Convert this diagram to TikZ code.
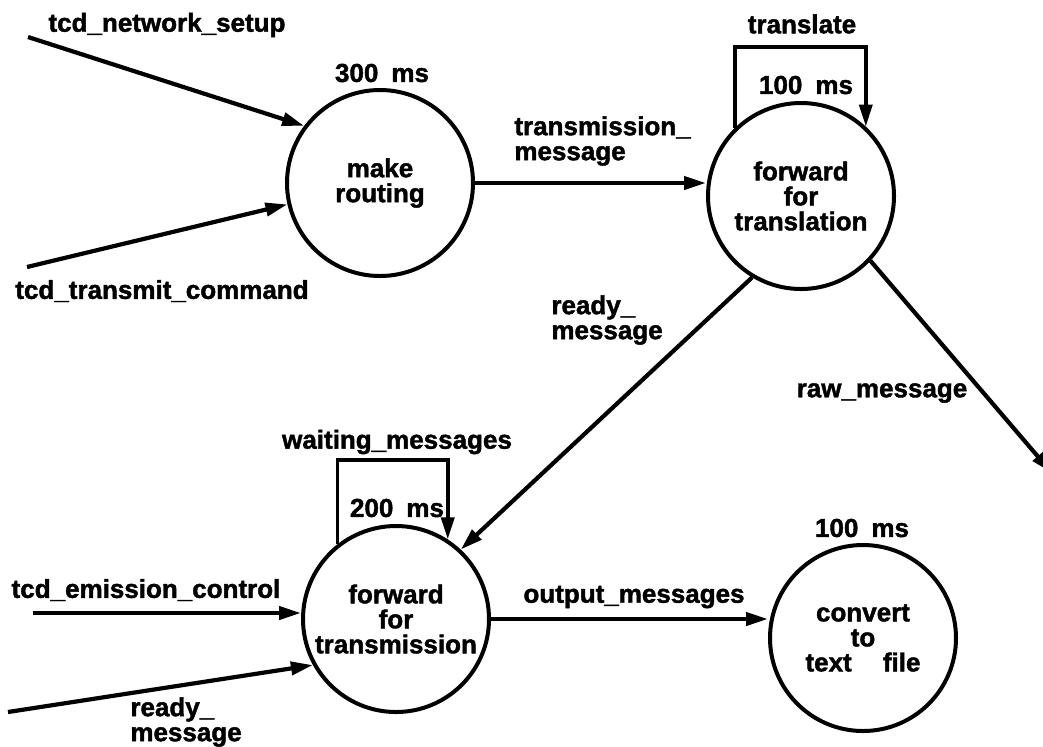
\documentclass[tikz,border=0pt]{standalone}
\usepackage{fontspec}
\setmainfont{Liberation Sans}
\newfontfamily\dfdheavy[FakeBold=1.6]{Liberation Sans Bold}
\usetikzlibrary{arrows.meta}
\newcommand{\dfdfont}{\fontsize{13}{12.5}\selectfont\dfdheavy}
\begin{document}
\begin{tikzpicture}[x=0.5pt,y=-0.5pt,
  proc/.style={circle,draw,line width=2pt,minimum size=93pt,inner sep=0pt,align=center,font=\dfdfont},
  lab/.style={inner sep=0pt,font=\dfdfont},
  flow/.style={line width=2.1pt,-{Triangle[length=11pt,width=6.5pt]}},
  selfloop/.style={line width=1.8pt,-{Triangle[length=11pt,width=6.5pt]}}]
\useasboundingbox (0,0) rectangle (1043,746);
% processes
\node[proc] (mr) at (380,183) {make\\routing};
\node[proc] (ft) at (801,196) {forward\\for\\translation};
\node[proc] (fx) at (396,619) {forward\\for\\transmission};
\node[proc] (cv) at (863,638) {convert\\to\\text\hspace{1.2em}file};
% free ends
\coordinate (nsIn) at (28,37);
\coordinate (tcIn) at (27,267);
\coordinate (ecIn) at (33,613);
\coordinate (rmIn) at (8,712);
\coordinate (rawOut) at (1052,473);
\coordinate (trTop) at (800,47);
\coordinate (wmTop) at (396,460);
% connectors
\draw[flow] (nsIn) -- (mr.143);
\draw[flow] (tcIn) -- (mr.193);
\draw[flow] (mr.east) -- (mr.east -| ft.west);
\draw[selfloop] (ft.134) -- (ft.134 |- trTop) -| (ft.47);
\draw[flow] (ft.239) -- (fx.47);
\draw[flow] (ft.317) -- (rawOut);
\draw[selfloop] (fx.128) -- (fx.128 |- wmTop) -| (fx.57);
\draw[flow] (ecIn) -- (ecIn -| fx.west);
\draw[flow] (rmIn) -- (fx.209);
\draw[flow] (fx.east) -- (fx.east -| cv.west);
% labels
\node[lab] (lNs) at (167,25) {tcd\_network\_setup};
\node[lab] (lTc) at (162,291) {tcd\_transmit\_command};
\node[lab] (l300) at (382,73) {300\hspace{0.5em}ms};
\node[lab,align=left,anchor=west] (lTm) at (514,141) {transmission\_\\message};
\node[lab] (lTr) at (802,24) {translate};
\node[lab] (l100a) at (806,85) {100\hspace{0.5em}ms};
\node[lab,align=left,anchor=west] (lRm1) at (551,320) {ready\_\\message};
\node[lab] (lRaw) at (882,393) {raw\_message};
\node[lab] (lWm) at (397,442) {waiting\_messages};
\node[lab] (l200) at (397,508) {200\hspace{0.5em}ms};
\node[lab] (lEc) at (146,590) {tcd\_emission\_control};
\node[lab,align=left,anchor=west] (lRm2) at (130,722) {ready\_\\message};
\node[lab] (lOm) at (634,597) {output\_messages};
\node[lab] (l100b) at (862,528) {100\hspace{0.5em}ms};
\end{tikzpicture}
\end{document}
